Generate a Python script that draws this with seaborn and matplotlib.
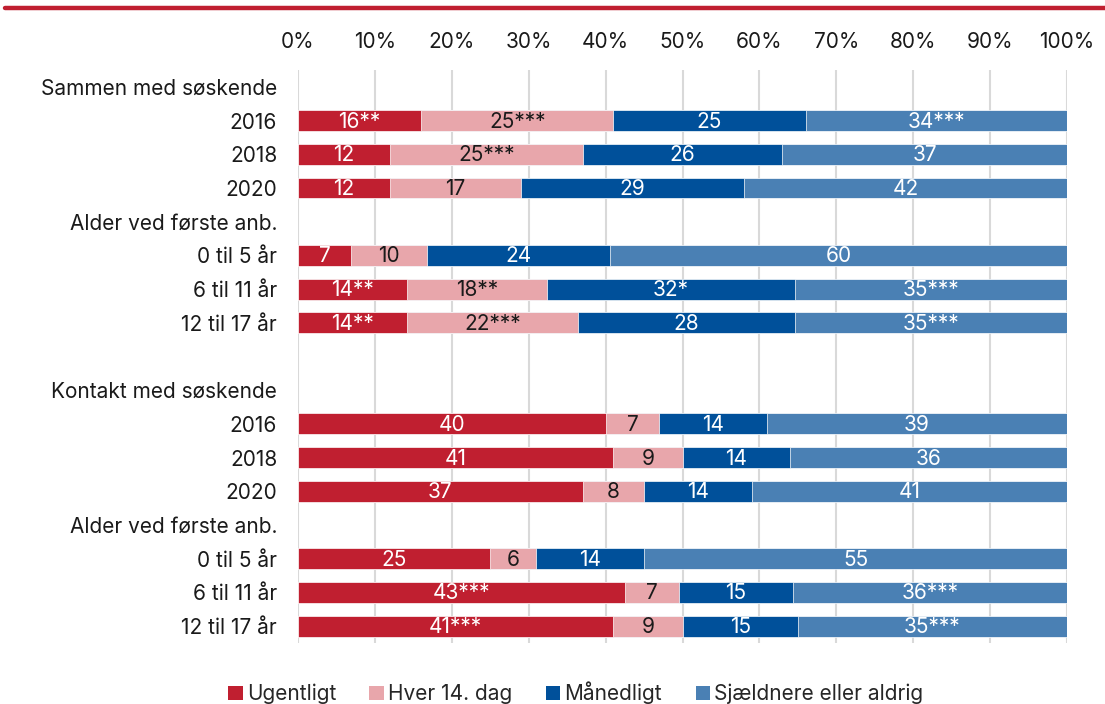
import numpy as np
import pandas as pd
import matplotlib
matplotlib.use("Agg")
import matplotlib.pyplot as plt
from matplotlib.lines import Line2D
from matplotlib.patches import Patch
import seaborn as sns

sns.set_theme(style="white")
plt.rcParams["font.family"] = ["Inter", "DejaVu Sans"]

row_labels = ["Sammen med søskende", "2016", "2018", "2020", "Alder ved første anb.",
              "0 til 5 år", "6 til 11 år", "12 til 17 år", "",
              "Kontakt med søskende", "2016", "2018", "2020", "Alder ved første anb.",
              "0 til 5 år", "6 til 11 år", "12 til 17 år"]
bar_rows = [1, 2, 3, 5, 6, 7, 10, 11, 12, 14, 15, 16]

series = ["Ugentligt", "Hver 14. dag", "Månedligt", "Sjældnere eller aldrig"]
ugentligt = [16, 12, 12, 7, 14, 14, 40, 41, 37, 25, 43, 41]
hver14 = [25, 25, 17, 10, 18, 22, 7, 9, 8, 6, 7, 9]
maanedligt = [25, 26, 29, 24, 32, 28, 14, 14, 14, 14, 15, 15]
sjaeldnere = [34, 37, 42, 60, 35, 35, 39, 36, 41, 55, 36, 35]

lbl_ugentligt = ["16**", "12", "12", "7", "14**", "14**", "40", "41", "37", "25", "43***", "41***"]
lbl_hver14 = ["25***", "25***", "17", "10", "18**", "22***", "7", "9", "8", "6", "7", "9"]
lbl_maanedligt = ["25", "26", "29", "24", "32*", "28", "14", "14", "14", "14", "15", "15"]
lbl_sjaeldnere = ["34***", "37", "42", "60", "35***", "35***", "39", "36", "41", "55", "36***", "35***"]

colors = ["#C01F30", "#E8A6AB", "#00509A", "#4A80B4"]
text_colors = ["white", "#1a1a1a", "white", "white"]

vals = np.array([ugentligt, hver14, maanedligt, sjaeldnere], dtype=float)
labels = [lbl_ugentligt, lbl_hver14, lbl_maanedligt, lbl_sjaeldnere]
shares = vals / vals.sum(axis=0) * 100
cum = np.cumsum(shares, axis=0)

FS = 15

fig = plt.figure(figsize=(11.05, 7.04), dpi=100)
ax = fig.add_axes([298 / 1105, 1 - 643 / 704, (1067 - 298) / 1105, (643 - 70) / 704])

# draw cumulative bars, longest first
for i in range(3, -1, -1):
    df = pd.DataFrame({"row": bar_rows, "cum": cum[i]})
    sns.barplot(data=df, x="cum", y="row", orient="h", native_scale=True,
                width=0.62, color=colors[i], saturation=1, edgecolor="white",
                linewidth=0.5, ax=ax, zorder=3)

for i in range(4):
    left = cum[i] - shares[i]
    for j, r in enumerate(bar_rows):
        ax.text(left[j] + shares[i][j] / 2, r + 0.03, labels[i][j], ha="center", va="center",
                color=text_colors[i], fontsize=FS, zorder=5)

ax.set_xlim(0, 100)
ax.set_ylim(16.5, -0.5)
ax.set_xticks(np.arange(0, 101, 10))
ax.set_xticklabels([f"{v}%" for v in range(0, 101, 10)], fontsize=FS, color="#1a1a1a")
ax.xaxis.tick_top()
ax.tick_params(axis="x", length=0, pad=13)
ax.set_yticks(range(len(row_labels)))
ax.set_yticklabels(row_labels, fontsize=FS, color="#1a1a1a")
ax.tick_params(axis="y", length=0, pad=15)
ax.set_xlabel("")
ax.set_ylabel("")
for s in ax.spines.values():
    s.set_visible(False)
ax.grid(axis="x", color="#D9D9D9", linewidth=1.5, zorder=0)
ax.grid(axis="y", visible=False)
ax.set_axisbelow(True)

# top red rule
fig.add_artist(Line2D([5 / 1105, 1.0], [1 - 8 / 704, 1 - 8 / 704], color="#C01F30",
                      linewidth=3.2, transform=fig.transFigure))

handles = [Patch(facecolor=c, edgecolor="none") for c in colors]
fig.legend(handles, series, loc="lower center", bbox_to_anchor=(0.521, -0.027), ncol=4,
           frameon=False, fontsize=FS, handlelength=0.7, handleheight=0.7,
           handletextpad=0.2, columnspacing=1.6)

fig.savefig("out.png", dpi=100)
